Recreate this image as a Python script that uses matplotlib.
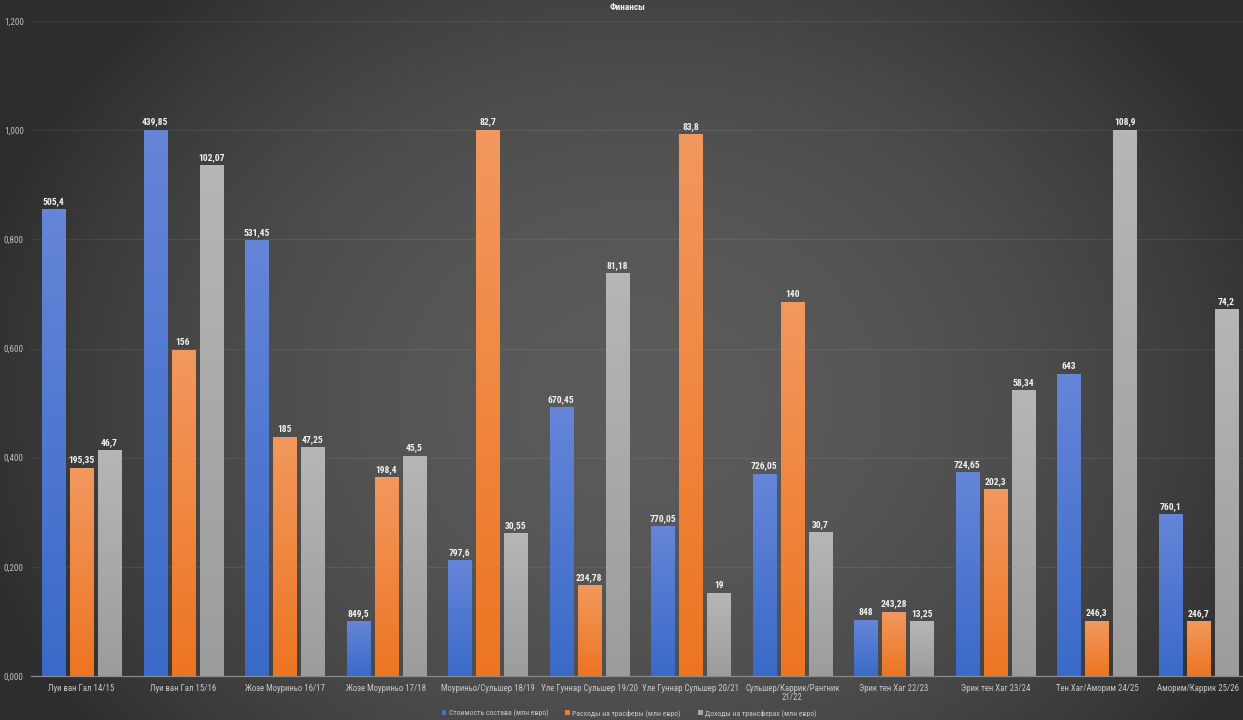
import matplotlib
matplotlib.use("Agg")
import matplotlib.pyplot as plt
import numpy as np
from matplotlib.patches import Patch
from matplotlib.ticker import FuncFormatter

# ---------------- data ----------------
categories = [
    "Луи ван Гал 14/15", "Луи ван Гал 15/16", "Жозе Моуриньо 16/17",
    "Жозе Моуриньо 17/18", "Моуриньо/Сульшер 18/19", "Уле Гуннар Сульшер 19/20",
    "Уле Гуннар Сульшер 20/21", "Сульшер/Каррик/Рангник\n21/22", "Эрик тен Хаг 22/23",
    "Эрик тен Хаг 23/24", "Тен Хаг/Аморим 24/25", "Аморим/Каррик 25/26",
]
series_names = ["Стоимость состава (млн евро)", "Расходы на трасферы (млн евро)",
                "Доходы на трансферах (млн евро)"]

# bar heights (normalised scale, as plotted)
squad_h = [0.855, 1.000, 0.798, 0.100, 0.212, 0.492, 0.273, 0.370, 0.1025, 0.373, 0.553, 0.295]
spend_h = [0.381, 0.5965, 0.437, 0.364, 1.000, 0.165, 0.992, 0.684, 0.117, 0.342, 0.1006, 0.099]
income_h = [0.4135, 0.935, 0.419, 0.403, 0.261, 0.737, 0.151, 0.263, 0.099, 0.523, 1.000, 0.672]

# data labels (actual values, млн евро)
squad_v = [505.4, 439.85, 531.45, 849.5, 797.6, 670.45, 770.05, 726.05, 848, 724.65, 643, 760.1]
spend_v = [195.35, 156, 185, 198.4, 82.7, 234.78, 83.8, 140, 243.28, 202.3, 246.3, 246.7]
income_v = [46.7, 102.07, 47.25, 45.5, 30.55, 81.18, 19, 30.7, 13.25, 58.34, 108.9, 74.2]

y_ticks = [0.0, 0.2, 0.4, 0.6, 0.8, 1.0, 1.2]

# ---------------- style ----------------
FONT = ["Roboto Condensed", "Liberation Sans", "DejaVu Sans"]
plt.rcParams["font.family"] = FONT

W, H = 1243, 720
fig = plt.figure(figsize=(W / 100, H / 100), dpi=100)

# background radial gradient
bg = fig.add_axes([0, 0, 1, 1], zorder=-10)
yy, xx = np.mgrid[0:H, 0:W]
r = np.sqrt(((xx - 640) / 680.0) ** 2 + ((yy - 400) / 560.0) ** 2)
r = np.clip(r, 0, 1)
center, edge = 0.355, 0.18
val = center - (center - edge) * r ** 2.0
bg.imshow(np.dstack([val, val, val]), aspect="auto", extent=[0, 1, 0, 1])
bg.set_xlim(0, 1); bg.set_ylim(0, 1)
bg.axis("off")

left = 30.75 / W
right = 1249.25 / W
bottom = (H - 676) / H
top = (H - 21) / H
ax = fig.add_axes([left, bottom, right - left, top - bottom])
ax.set_facecolor("none")

n = len(categories)
x = np.arange(n)
bw = 0.227
step = 0.276
series = [
    (squad_h, squad_v, ("#6585d8", "#3a6ac8"), "#4472c4"),
    (spend_h, spend_v, ("#f2985e", "#ed7522"), "#ed7d31"),
    (income_h, income_v, ("#b6b6b6", "#9c9c9c"), "#a5a5a5"),
]


def fmt(v):
    return ("%g" % v).replace(".", ",")


def hex2rgb(h):
    h = h.lstrip("#")
    return np.array([int(h[i:i + 2], 16) / 255 for i in (0, 2, 4)])


for k, (hs, vs, (ctop, cbot), solid) in enumerate(series):
    pos = x + (k - 1) * step
    bars = ax.bar(pos, hs, width=bw, color="none", edgecolor="none", zorder=3)
    t, b = hex2rgb(ctop), hex2rgb(cbot)
    grad = np.linspace(0, 1, 64)[:, None]
    img = t[None, :] * (1 - grad) + b[None, :] * grad
    img = img[:, None, :]
    for bar, v in zip(bars, vs):
        x0 = bar.get_x()
        w = bar.get_width()
        h = bar.get_height()
        ax.imshow(img, extent=[x0, x0 + w, 0, h], aspect="auto", zorder=3,
                  interpolation="bilinear")
        ax.annotate(fmt(v), (x0 + w / 2, h), xytext=(0, 2.5), textcoords="offset points",
                    ha="center", va="bottom", color="#f2f2f2", fontsize=6.8,
                    fontweight="bold", zorder=5)

ax.set_xlim(-0.5, n - 0.5)
ax.set_ylim(0, 1.2)
ax.set_yticks(y_ticks)
ax.yaxis.set_major_formatter(FuncFormatter(lambda v, p: ("%.3f" % v).replace(".", ",")))
ax.set_xticks(x)
ax.set_xticklabels(categories, linespacing=1.0)
ax.tick_params(axis="both", length=0, colors="#c8c8c8", labelsize=6.6)
ax.tick_params(axis="x", pad=6, labelsize=6.3)
ax.tick_params(axis="y", pad=5)
for lab in ax.get_yticklabels():
    lab.set_color("#bdbdbd")

ax.grid(axis="y", color="#ffffff", alpha=0.07, linewidth=0.9, zorder=0)
ax.set_axisbelow(True)
for s in ["top", "right", "left"]:
    ax.spines[s].set_visible(False)
ax.spines["bottom"].set_color("#8a8a8a")
ax.spines["bottom"].set_linewidth(0.9)
ax.spines["bottom"].set_zorder(4)

# title
fig.text(627 / W, 1 - 7 / H, "Финансы", ha="center", va="center", color="#f0f0f0",
         fontsize=6.6, fontweight="bold")

# legend
handles = [Patch(facecolor=s[3], edgecolor="none") for s in series]
leg = fig.legend(handles, series_names, loc="center", bbox_to_anchor=(629 / W, 1 - 713 / H),
                 ncol=3, frameon=False, fontsize=5.6, handlelength=0.6, handleheight=0.6,
                 handletextpad=0.3, columnspacing=2.2, labelcolor="#c8c8c8")

fig.savefig("out.png", dpi=100)
